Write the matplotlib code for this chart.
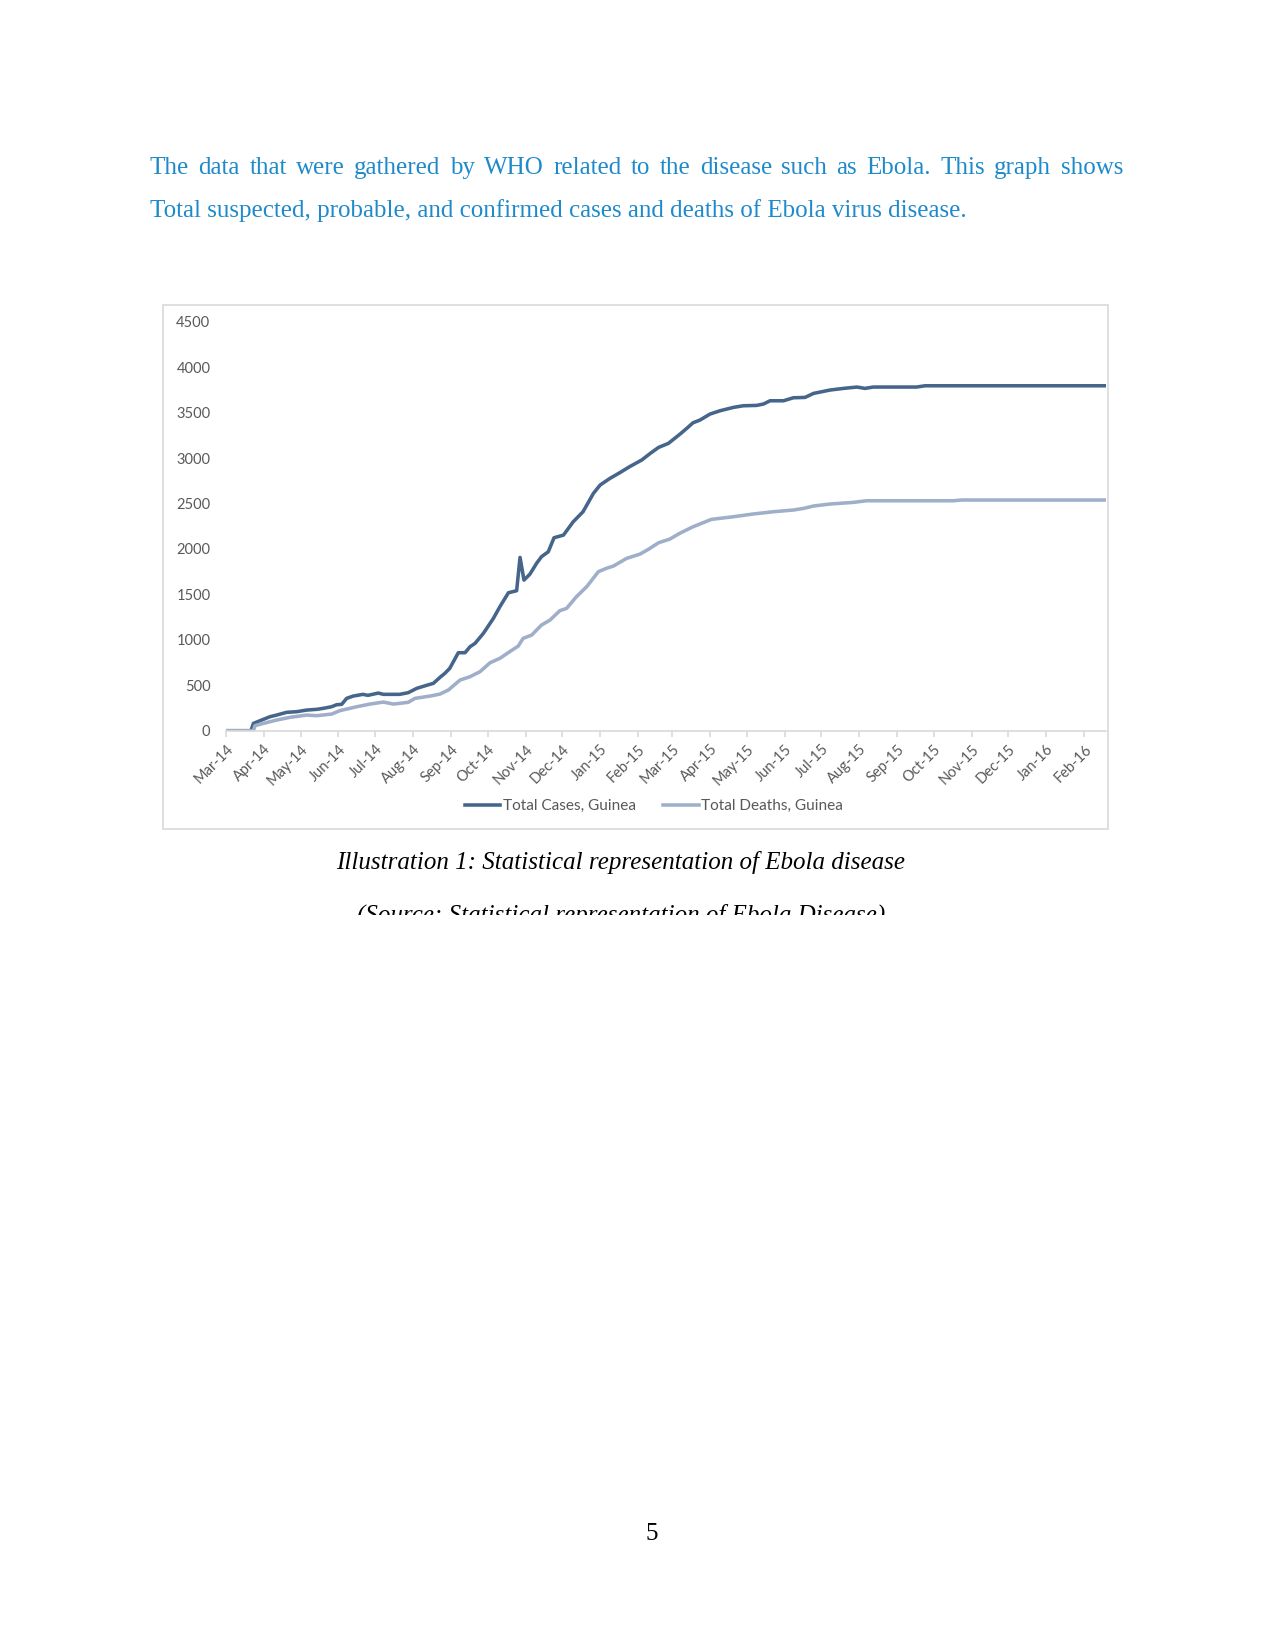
import pandas as pd
import matplotlib
matplotlib.use("Agg")
import matplotlib.pyplot as plt
import matplotlib.dates as mdates
from matplotlib.patches import Rectangle

# days since 1 Mar 2014
cases_day = [0, 20.4, 22.4, 27.8, 36, 41.4, 49.6, 57.8, 66, 74.2,
             79.6, 86.4, 90.5, 94.6, 98.7, 104, 112, 116, 124.6, 128.7,
             142, 149, 156, 164, 169.6, 175, 179, 183, 190, 195.5,
             199.6, 203.7, 210.5, 218.7, 224, 231, 237.7, 240.5, 243.7, 248.6,
             254, 258, 263.6, 268.3, 276, 284, 292, 300.5, 306, 314,
             322, 330, 340, 347, 353.8, 361.8, 371.4, 376.8, 382, 387.7,
             395.9, 404, 415, 423, 434, 439.5, 445, 456, 464, 473.6,
             480.5, 494, 505, 516, 522.6, 529.4, 564.8, 571.7, 719.5]
cases = [0, 0, 80, 110, 154, 172, 202, 209, 227, 235,
         246, 264, 286, 290, 356, 381, 400, 389, 414, 400,
         400, 418, 466, 499, 521, 587, 631, 686, 858, 858,
         924, 961, 1071, 1236, 1364, 1518, 1540, 1907, 1657, 1723,
         1841, 1914, 1969, 2123, 2152, 2299, 2409, 2611, 2703, 2776,
         2838, 2904, 2978, 3051, 3117, 3161, 3264, 3326, 3388, 3418,
         3484, 3520, 3557, 3575, 3579, 3594, 3630, 3630, 3663, 3667,
         3711, 3748, 3766, 3781, 3766, 3781, 3781, 3795, 3795]

deaths_day = [0, 22.4, 23.7, 30.5, 41.4, 52.3, 66, 74, 86.4, 93,
              107, 117.8, 128.7, 137, 149, 154.6, 167, 175, 181.8, 191.4,
              199.6, 207.7, 216, 224, 232, 239, 243, 250, 258, 265,
              273, 278.6, 286.6, 295, 304.5, 311, 316.8, 327.7, 338.6, 345.4,
              353.8, 363, 371, 382, 397, 415, 431, 447.6, 464, 472.5,
              480.5, 494, 513, 524, 594.8, 601.7, 719.5]
deaths = [0, 0, 55, 80, 117, 147, 172, 165, 183, 220,
          264, 293, 315, 293, 312, 356, 381, 403, 447, 557,
          594, 649, 748, 796, 869, 931, 1016, 1052, 1162, 1217,
          1320, 1346, 1474, 1584, 1749, 1786, 1811, 1896, 1943, 1995,
          2068, 2108, 2171, 2244, 2325, 2354, 2384, 2409, 2428, 2446,
          2472, 2494, 2512, 2530, 2530, 2538, 2538]

y_ticks = [0, 500, 1000, 1500, 2000, 2500, 3000, 3500, 4000, 4500]
series_names = ["Total Cases, Guinea", "Total Deaths, Guinea"]

body_line1 = "The data that were gathered by WHO related to the disease such as Ebola. This graph shows"
body_line2 = "Total suspected, probable, and confirmed cases and deaths of Ebola virus disease."
caption = "Illustration 1: Statistical representation of Ebola disease"
source = "(Source: Statistical representation of Ebola Disease)"
page_no = "5"

W, H = 1275, 1650
start = pd.Timestamp("2014-03-01")
cases_x = start + pd.to_timedelta(cases_day, unit="D")
deaths_x = start + pd.to_timedelta(deaths_day, unit="D")

fig = plt.figure(figsize=(8.5, 11), dpi=150)
fig.patch.set_facecolor("white")

def fx(px):
    return px / W

def fy(py):
    return 1 - py / H

# body text, justified first line
blue = "#1F8ACB"
serif = "Liberation Serif"
left_px, right_px = 150, 1123
renderer = fig.canvas.get_renderer()
words = body_line1.split()
widths = []
for w in words:
    t = fig.text(0, 0, w, fontsize=12, family=serif)
    widths.append(t.get_window_extent(renderer).width)
    t.remove()
gap = (right_px - left_px - sum(widths)) / (len(words) - 1)
xpos = left_px
for w, wd in zip(words, widths):
    fig.text(fx(xpos), fy(168), w, fontsize=12, family=serif, color=blue, va="center")
    xpos += wd + gap
fig.text(fx(left_px), fy(211), body_line2, fontsize=12, family=serif, color=blue, va="center")

# chart frame
fig.patches.append(Rectangle((fx(163), fy(829)), fx(1108) - fx(163), fy(305) - fy(829),
                             transform=fig.transFigure, fill=False, edgecolor="#d9d9d9", lw=0.8))

ax = fig.add_axes([fx(226), fy(730.7), fx(1105.7) - fx(226), fy(321.7) - fy(730.7)])
ax.plot(cases_x, cases, color="#46658A", lw=1.7, label=series_names[0], solid_joinstyle="round")
ax.plot(deaths_x, deaths, color="#9FAFC9", lw=1.7, label=series_names[1], solid_joinstyle="round")

ax.set_xlim(start, start + pd.Timedelta(days=719.5))
ax.set_ylim(0, 4500)
ax.set_yticks(y_ticks)
ticks = pd.date_range("2014-03-01", "2016-02-01", freq="MS")
ax.set_xticks(ticks)
ax.xaxis.set_major_formatter(mdates.DateFormatter("%b-%y"))

for s in ["left", "top", "right"]:
    ax.spines[s].set_visible(False)
ax.spines["bottom"].set_color("#d9d9d9")
ax.spines["bottom"].set_linewidth(0.8)
ax.tick_params(axis="x", direction="out", length=3, color="#d9d9d9", pad=2.5,
               labelsize=7, labelcolor="#595959")
ax.tick_params(axis="y", length=0, pad=7.5, labelsize=7, labelcolor="#595959")
for lab in ax.get_xticklabels():
    lab.set_rotation(45)
    lab.set_ha("right")
    lab.set_rotation_mode("anchor")
    lab.set_family("Lato")
for lab in ax.get_yticklabels():
    lab.set_family("Lato")

leg = fig.legend(loc="center", bbox_to_anchor=(fx(654), fy(806)), ncol=2, frameon=False,
                 prop={"family": "Lato", "size": 7.4}, handlelength=2.3, handletextpad=0.15,
                 columnspacing=1.8)
for t in leg.get_texts():
    t.set_color("#595959")
for l in leg.get_lines():
    l.set_linewidth(1.7)

fig.text(fx(621), fy(862), caption, fontsize=12, family=serif, style="italic", ha="center", va="center")
fig.text(fx(621), fy(915), source, fontsize=12, family=serif, style="italic", ha="center", va="center")
# the source line is cut off in the page image
fig.patches.append(Rectangle((0, 0), 1, fy(915), transform=fig.transFigure,
                             facecolor="white", edgecolor="none", zorder=10))
fig.text(fx(652), fy(1534), page_no, fontsize=12, family=serif, ha="center", va="center", zorder=11)

fig.savefig("out.png", dpi=150, facecolor="white")
